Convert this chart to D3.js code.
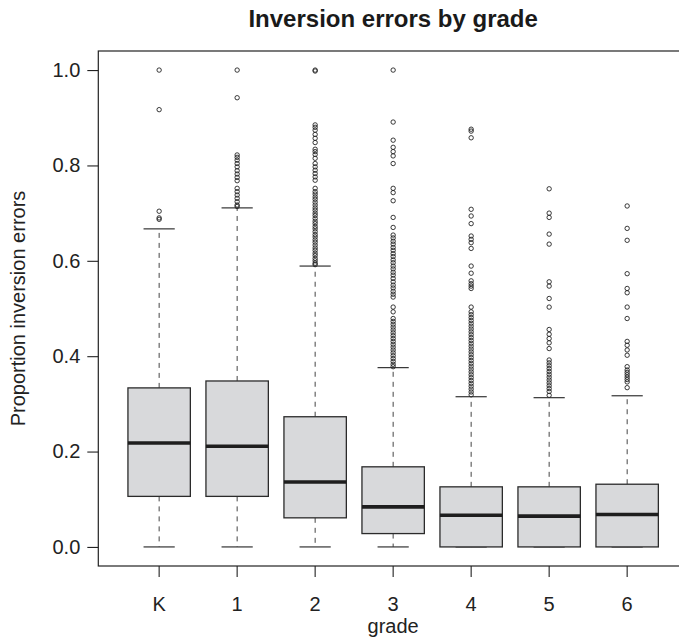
<!DOCTYPE html>
<html>
<head>
<meta charset="utf-8">
<script src="https://cdn.jsdelivr.net/npm/d3@7.9.0/dist/d3.min.js"></script>
<style>
  body { margin: 0; background: #fff; }
  svg { display: block; font-family: "Liberation Sans", Arial, Helvetica, sans-serif; }
</style>
</head>
<body>
<div id="chart"></div>
<script>
// --- data ---
const grades = ['K', '1', '2', '3', '4', '5', '6'];
const whiskerLo = [0, 0, 0, 0, 0, 0, 0];
const q1 = [0.106, 0.106, 0.061, 0.028, 0, 0, 0];
const medians = [0.218, 0.211, 0.136, 0.084, 0.0665, 0.0645, 0.068];
const q3 = [0.3335, 0.348, 0.273, 0.168, 0.126, 0.126, 0.1315];
const whiskerHi = [0.667, 0.711, 0.589, 0.376, 0.315, 0.313, 0.317];

const outliersK = [1.0, 0.917, 0.704, 0.690, 0.687];
const outliers1 = [1.0, 0.942, 0.822, 0.817, 0.811, 0.804, 0.797, 0.789, 0.782, 0.775,
  0.768, 0.752, 0.745, 0.738, 0.731, 0.724, 0.717, 0.714];
const outliers2 = [1.0, 0.998, 0.885, 0.880, 0.874, 0.865, 0.857, 0.848, 0.834, 0.829,
  0.823, 0.815, 0.804, 0.797, 0.790, 0.783, 0.776, 0.769, 0.752, 0.745, 0.740, 0.734,
  0.729, 0.723, 0.717, 0.711, 0.706, 0.700, 0.695, 0.689, 0.683, 0.678, 0.672, 0.667,
  0.661, 0.655, 0.650, 0.644, 0.639, 0.633, 0.627, 0.622, 0.616, 0.611, 0.605, 0.600,
  0.595, 0.592];
const outliers3 = [1.0, 0.891, 0.853, 0.838, 0.829, 0.820, 0.804, 0.752, 0.743, 0.726,
  0.691, 0.670, 0.654, 0.648, 0.641, 0.635, 0.628, 0.622, 0.615, 0.609, 0.602, 0.596,
  0.589, 0.583, 0.576, 0.570, 0.563, 0.556, 0.549, 0.543, 0.536, 0.530, 0.524, 0.503,
  0.493, 0.479, 0.473, 0.467, 0.461, 0.455, 0.449, 0.443, 0.437, 0.431, 0.425, 0.419,
  0.413, 0.407, 0.401, 0.395, 0.389, 0.383, 0.378];
const outliers4 = [0.876, 0.872, 0.858, 0.708, 0.694, 0.678, 0.652, 0.645, 0.638, 0.626,
  0.589, 0.574, 0.558, 0.552, 0.547, 0.542, 0.503, 0.493, 0.487, 0.481, 0.475, 0.469,
  0.463, 0.457, 0.451, 0.445, 0.439, 0.433, 0.427, 0.421, 0.415, 0.409, 0.403, 0.397,
  0.391, 0.385, 0.379, 0.373, 0.367, 0.361, 0.355, 0.349, 0.343, 0.337, 0.331, 0.325,
  0.319];
const outliers5 = [0.751, 0.700, 0.691, 0.656, 0.635, 0.556, 0.547, 0.521, 0.503, 0.456,
  0.446, 0.437, 0.428, 0.416, 0.392, 0.386, 0.380, 0.374, 0.368, 0.362, 0.356, 0.350,
  0.344, 0.338, 0.332, 0.326, 0.318];
const outliers6 = [0.715, 0.668, 0.643, 0.573, 0.542, 0.533, 0.503, 0.479, 0.431, 0.423,
  0.413, 0.402, 0.378, 0.371, 0.366, 0.361, 0.356, 0.351, 0.346, 0.334];
const outliers = [outliersK, outliers1, outliers2, outliers3, outliers4, outliers5, outliers6];

const yTicks = [0, 0.2, 0.4, 0.6, 0.8, 1.0];

// --- layout ---
const width = 679;
const height = 644;
const plot = { left: 98.3, right: 688, top: 51, bottom: 566 };

const stats = grades.map((g, i) => ({
  grade: g, lo: whiskerLo[i], q1: q1[i], med: medians[i], q3: q3[i], hi: whiskerHi[i],
  out: outliers[i]
}));

const svg = d3.select('#chart').append('svg')
  .attr('width', width)
  .attr('height', height);

const x = d3.scaleBand()
  .domain(grades)
  .range([plot.left, plot.right])
  .paddingInner(0.2)
  .paddingOuter(0.38);

const y = d3.scaleLinear()
  .domain([-0.04, 1.04])
  .range([plot.bottom, plot.top]);

const bw = x.bandwidth();
const cx = (d) => x(d.grade) + bw / 2;

const groups = svg.append('g').attr('class', 'boxes')
  .selectAll('g')
  .data(stats)
  .join('g');

// whiskers (dashed)
groups.append('line')
  .attr('x1', cx).attr('x2', cx)
  .attr('y1', (d) => y(d.q3)).attr('y2', (d) => y(d.hi))
  .attr('stroke', '#444').attr('stroke-width', 1)
  .attr('stroke-dasharray', '5,5');
groups.append('line')
  .attr('x1', cx).attr('x2', cx)
  .attr('y1', (d) => y(d.q1)).attr('y2', (d) => y(d.lo))
  .attr('stroke', '#444').attr('stroke-width', 1)
  .attr('stroke-dasharray', '5,5');

// staples
['hi', 'lo'].forEach((k) => {
  groups.append('line')
    .attr('x1', (d) => cx(d) - bw / 4).attr('x2', (d) => cx(d) + bw / 4)
    .attr('y1', (d) => y(d[k])).attr('y2', (d) => y(d[k]))
    .attr('stroke', '#333').attr('stroke-width', 1.2);
});

// boxes
groups.append('rect')
  .attr('x', (d) => x(d.grade))
  .attr('width', bw)
  .attr('y', (d) => y(d.q3))
  .attr('height', (d) => y(d.q1) - y(d.q3))
  .attr('fill', '#d8d9db')
  .attr('stroke', '#2b2b2b')
  .attr('stroke-width', 1.3);

// medians
groups.append('line')
  .attr('x1', (d) => x(d.grade)).attr('x2', (d) => x(d.grade) + bw)
  .attr('y1', (d) => y(d.med)).attr('y2', (d) => y(d.med))
  .attr('stroke', '#1e1e1e').attr('stroke-width', 3.6);

// outliers
groups.selectAll('circle')
  .data((d) => d.out.map((v) => ({ grade: d.grade, v })))
  .join('circle')
  .attr('cx', cx)
  .attr('cy', (d) => y(d.v))
  .attr('r', 2.2)
  .attr('fill', 'none')
  .attr('stroke', '#222')
  .attr('stroke-width', 0.9);

// frame
svg.append('rect')
  .attr('x', plot.left).attr('y', plot.top)
  .attr('width', plot.right - plot.left)
  .attr('height', plot.bottom - plot.top)
  .attr('fill', 'none')
  .attr('stroke', '#222')
  .attr('stroke-width', 1.2);

// axes
const yAxis = svg.append('g')
  .attr('transform', `translate(${plot.left},0)`)
  .call(d3.axisLeft(y).tickValues(yTicks).tickFormat(d3.format('.1f')).tickSize(11).tickPadding(7));
yAxis.select('.domain').remove();

const xAxis = svg.append('g')
  .attr('transform', `translate(0,${plot.bottom})`)
  .call(d3.axisBottom(x).tickSize(11).tickPadding(20));
xAxis.select('.domain').remove();

svg.selectAll('.tick line').attr('stroke', '#222').attr('stroke-width', 1.1);
svg.selectAll('.tick text')
  .attr('fill', '#222')
  .style('font-size', '20px');

// titles
svg.append('text')
  .attr('x', (plot.left + plot.right) / 2)
  .attr('y', 27)
  .attr('text-anchor', 'middle')
  .attr('fill', '#1a1a1a')
  .style('font-size', '24px')
  .style('font-weight', 'bold')
  .text('Inversion errors by grade');

svg.append('text')
  .attr('x', (plot.left + plot.right) / 2)
  .attr('y', 633)
  .attr('text-anchor', 'middle')
  .attr('fill', '#222')
  .style('font-size', '20px')
  .text('grade');

svg.append('text')
  .attr('transform', `translate(25,${(plot.top + plot.bottom) / 2}) rotate(-90)`)
  .attr('text-anchor', 'middle')
  .attr('fill', '#222')
  .style('font-size', '20px')
  .text('Proportion inversion errors');
</script>
</body>
</html>
